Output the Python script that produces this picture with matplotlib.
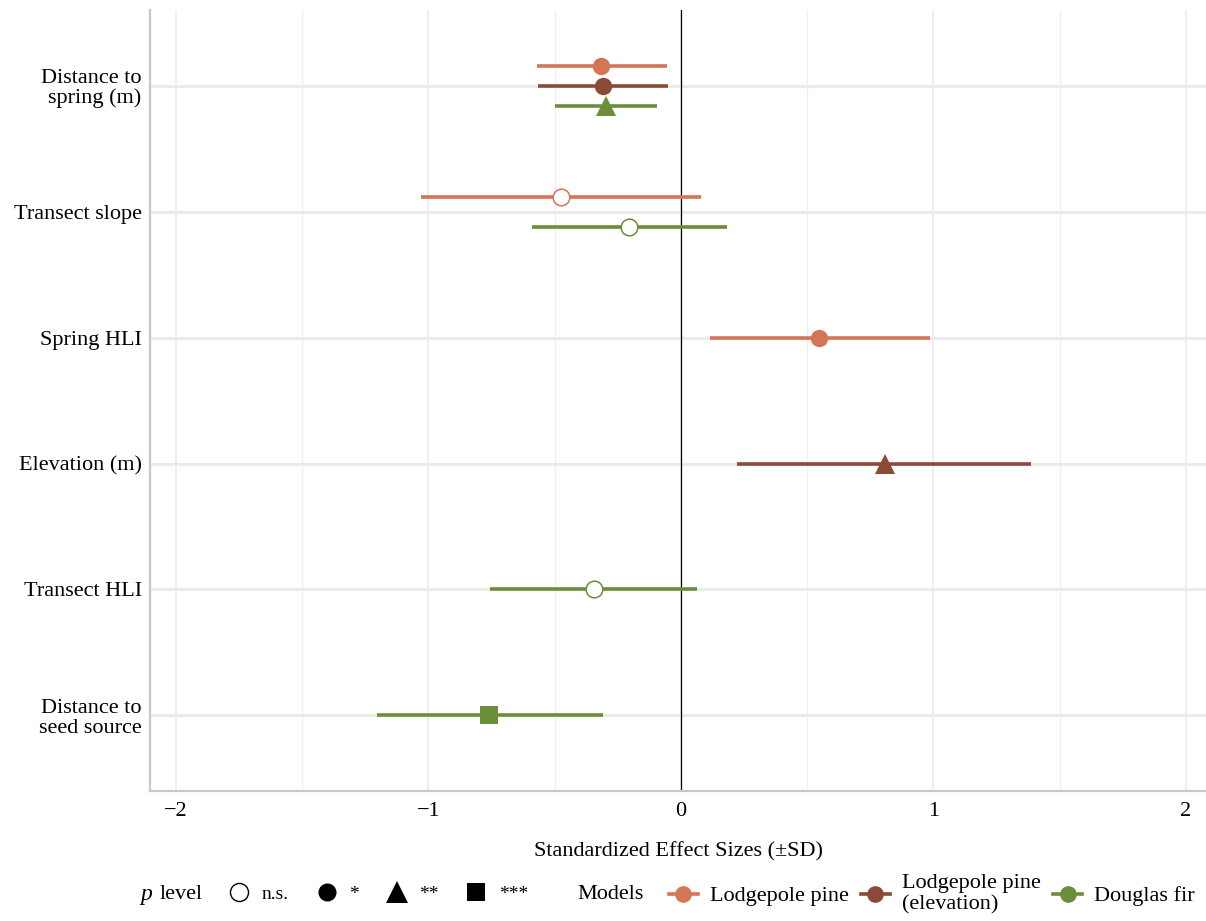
import numpy as np
import matplotlib
matplotlib.use('Agg')
import matplotlib.pyplot as plt
from matplotlib.lines import Line2D

plt.rcParams['font.family'] = ['Liberation Serif', 'DejaVu Serif']

predictors = ['Distance to\nspring (m)', 'Transect slope', 'Spring HLI',
              'Elevation (m)', 'Transect HLI', 'Distance to\nseed source']
models = ['Lodgepole pine', 'Lodgepole pine\n(elevation)', 'Douglas fir']
colors = ['#D47556', '#8B4A36', '#6B8E3A']

# (predictor index, model index, estimate, lower, upper, significance)
pred_idx = [0, 0, 0, 1, 1, 2, 3, 4, 5]
model_idx = [0, 1, 2, 0, 2, 0, 1, 2, 2]
estimate = [-0.317, -0.309, -0.297, -0.475, -0.206, 0.547, 0.808, -0.345, -0.760]
lower = [-0.570, -0.566, -0.499, -1.030, -0.590, 0.115, 0.222, -0.756, -1.204]
upper = [-0.055, -0.051, -0.095, 0.079, 0.182, 0.986, 1.386, 0.063, -0.309]
signif = ['*', '*', '**', 'n.s.', 'n.s.', '*', '**', 'n.s.', '***']

sig_levels = ['n.s.', '*', '**', '***']
sig_marker = {'n.s.': 'o', '*': 'o', '**': '^', '***': 's'}
sig_size = {'n.s.': 12, '*': 12.5, '**': 15, '***': 12.5}

fig = plt.figure(figsize=(12.06, 9.21), dpi=100)
ax = fig.add_axes([0.1244, 0.1412, 0.8756, 0.8478])

n = len(predictors)
ypos = {i: n - i for i in range(n)}
dodge = 0.48

for i in range(n):
    rows = [k for k in range(len(pred_idx)) if pred_idx[k] == i]
    m = len(rows)
    for j, k in enumerate(rows):
        off = dodge * ((j + 0.5) / m - 0.5) if m > 1 else 0.0
        y = ypos[i] - off
        c = colors[model_idx[k]]
        ax.plot([lower[k], upper[k]], [y, y], color=c, lw=2.6,
                solid_capstyle='butt', zorder=3)
        s = signif[k]
        face = 'white' if s == 'n.s.' else c
        ax.plot(estimate[k], y, marker=sig_marker[s], ms=sig_size[s],
                mfc=face, mec=c, mew=1.1 if s == 'n.s.' else 0, zorder=4)

ax.axvline(0, color='black', lw=0.9, zorder=2)

ax.set_xlim(-2.103, 2.08)
ax.set_ylim(0.4, 6.6)
ax.set_yticks([ypos[i] for i in range(n)])
ax.set_yticklabels(predictors, fontsize=16, linespacing=1.05)
ax.set_xticks([-2, -1, 0, 1, 2])
ax.set_xticklabels(['\u22122', '\u22121', '0', '1', '2'], fontsize=16)
ax.set_xticks([-1.5, -0.5, 0.5, 1.5], minor=True)
ax.tick_params(axis='both', which='both', length=0, pad=6)
ax.tick_params(axis='x', pad=8)
ax.grid(axis='y', which='major', color='#EBEBEB', lw=2.2, zorder=0)
ax.grid(axis='x', which='major', color='#EBEBEB', lw=1.2, zorder=0)
ax.grid(axis='x', which='minor', color='#F0F0F0', lw=1.0, zorder=0)
ax.set_axisbelow(True)
for side in ['top', 'right']:
    ax.spines[side].set_visible(False)
for side in ['left', 'bottom']:
    ax.spines[side].set_color('#C8C8C8')
    ax.spines[side].set_linewidth(1.6)
ax.set_xlabel('Standardized Effect Sizes (\u00b1SD)', fontsize=16, labelpad=15)

# legend: p level
fig.text(0.116, 0.029, 'p', fontsize=17, style='italic', va='center')
fig.text(0.132, 0.029, 'level', fontsize=16, va='center')
p_handles = [Line2D([], [], ls='none', marker=sig_marker[s], ms=13 if s != '**' else 16,
                    mfc='white' if s == 'n.s.' else 'black', mec='black',
                    mew=1.0 if s == 'n.s.' else 0) for s in sig_levels]
leg1 = fig.legend(p_handles, sig_levels, loc='center left',
                  bbox_to_anchor=(0.175, 0.029), ncol=4, frameon=False,
                  fontsize=14, handlelength=1.1, handletextpad=0.6,
                  columnspacing=1.4)

fig.text(0.479, 0.029, 'Models', fontsize=16, va='center')
m_handles = [Line2D([], [], color=c, lw=2.6, marker='o', ms=12, mew=0)
             for c in colors]
leg2 = fig.legend(m_handles, models, loc='center left',
                  bbox_to_anchor=(0.538, 0.029), ncol=3, frameon=False,
                  fontsize=16, handlelength=1.3, handletextpad=0.55,
                  columnspacing=0.55)
for t in leg2.get_texts():
    t.set_linespacing(1.1)

fig.savefig('out.png', dpi=100)
